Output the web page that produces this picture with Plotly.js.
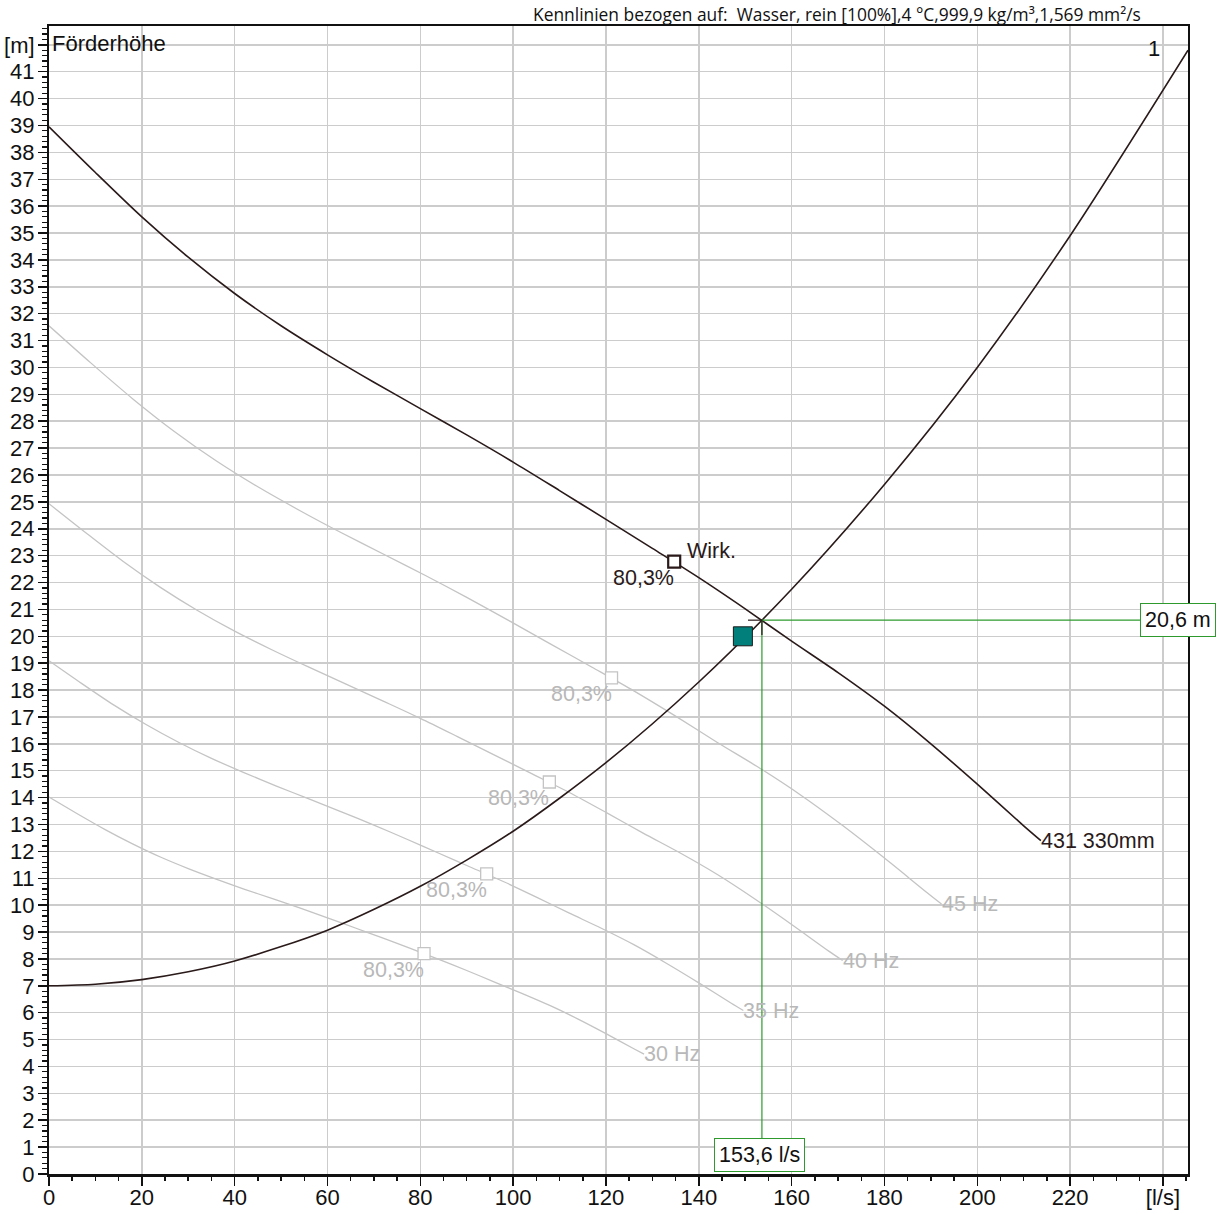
<!DOCTYPE html>
<html>
<head>
<meta charset="utf-8">
<script src="https://cdn.plot.ly/plotly-3.0.1.min.js"></script>
<style>html,body{margin:0;padding:0;background:#fff;}#chart{width:1226px;height:1214px;}</style>
</head>
<body>
<div id="chart"></div>
<script>
// ---- data ----
const pump50Q = [0, 10, 20, 30, 40, 50, 60, 70, 80, 90, 100, 110, 120, 130, 140, 150, 160, 170, 180, 190, 200, 210, 213.7];
const pump50H = [38.95, 37.25, 35.6, 34.1, 32.75, 31.55, 30.47, 29.45, 28.47, 27.49, 26.48, 25.42, 24.35, 23.27, 22.18, 21.02, 19.82, 18.65, 17.4, 16.0, 14.5, 12.95, 12.4];

const pump45Q = [0, 9, 18, 27, 36, 45, 54, 63, 72, 81, 90, 99, 108, 117, 126, 135, 144, 153, 162, 171, 180, 189, 192.3];
const pump45H = [31.55, 30.17, 28.84, 27.62, 26.53, 25.56, 24.68, 23.85, 23.06, 22.27, 21.45, 20.59, 19.72, 18.85, 17.97, 17.03, 16.05, 15.11, 14.09, 12.96, 11.75, 10.49, 10.04];

const pump40Q = [0, 8, 16, 24, 32, 40, 48, 56, 64, 72, 80, 88, 96, 104, 112, 120, 128, 136, 144, 152, 160, 168, 171];
const pump40H = [24.93, 23.84, 22.78, 21.82, 20.96, 20.19, 19.5, 18.85, 18.22, 17.59, 16.95, 16.27, 15.58, 14.89, 14.2, 13.45, 12.68, 11.94, 11.14, 10.24, 9.28, 8.29, 7.94];

const pump35Q = [0, 7, 14, 21, 28, 35, 42, 49, 56, 63, 70, 77, 84, 91, 98, 105, 112, 119, 126, 133, 140, 147, 149.6];
const pump35H = [19.09, 18.25, 17.44, 16.71, 16.05, 15.46, 14.93, 14.43, 13.95, 13.47, 12.98, 12.46, 11.93, 11.4, 10.87, 10.3, 9.71, 9.14, 8.53, 7.84, 7.11, 6.35, 6.08];

const pump30Q = [0, 6, 12, 18, 24, 30, 36, 42, 48, 54, 60, 66, 72, 78, 84, 90, 96, 102, 108, 114, 120, 126, 128.2];
const pump30H = [14.02, 13.41, 12.82, 12.28, 11.79, 11.36, 10.97, 10.6, 10.25, 9.9, 9.53, 9.15, 8.77, 8.38, 7.98, 7.57, 7.14, 6.71, 6.26, 5.76, 5.22, 4.66, 4.46];

const systemQ = [0, 10, 20, 30, 40, 60, 80, 100, 120, 140, 160, 180, 200, 220, 245.4];
const systemH = [7.0, 7.06, 7.23, 7.52, 7.92, 9.07, 10.7, 12.75, 15.3, 18.3, 21.75, 25.65, 30.0, 34.9, 41.8];

const curveLabels = ['431 330mm', '45 Hz', '40 Hz', '35 Hz', '30 Hz'];
const effQ = [134.7, 121.2, 107.8, 94.3, 80.8];
const effH = [22.78, 18.45, 14.58, 11.16, 8.2];
const effLabel = '80,3%';

const dutyQ = [149.5];
const dutyH = [20.0];

const opQ = 153.6;
const opH = 20.6;
const opQLabel = '153,6 l/s';
const opHLabel = '20,6 m';

const xTickVals = [0, 20, 40, 60, 80, 100, 120, 140, 160, 180, 200, 220, 240];
const xTickText = ['0', '20', '40', '60', '80', '100', '120', '140', '160', '180', '200', '220', '[l/s]'];
const yTickVals = Array.from({length: 43}, (_, i) => i);
const yTickText = yTickVals.map(v => v === 42 ? '[m]' : String(v));

const headerText = 'Kennlinien bezogen auf:  Wasser, rein [100%],4 °C,999,9 kg/m³,1,569 mm²/s';

// ---- styles ----
const DARK = '#2a1a1a';
const GRAY = '#c4c4c4';
const GRAYTXT = '#b8b8b8';
const GREEN = '#2e9a2e';
const FONT = 'Liberation Sans, Arial, sans-serif';
const XMAX = 245.4, YMAX = 42.7;

const allQ = [pump50Q, pump45Q, pump40Q, pump35Q, pump30Q];
const allH = [pump50H, pump45H, pump40H, pump35H, pump30H];

const traces = [];
for (let i = 4; i >= 1; i--) {
  traces.push({x: allQ[i], y: allH[i], mode: 'lines', line: {color: GRAY, width: 1.3, shape: 'spline', smoothing: 0.8}, hoverinfo: 'skip'});
}
traces.push({x: systemQ, y: systemH, mode: 'lines', line: {color: DARK, width: 1.6, shape: 'spline', smoothing: 0.8}, hoverinfo: 'skip'});
traces.push({x: pump50Q, y: pump50H, mode: 'lines', line: {color: DARK, width: 1.6, shape: 'spline', smoothing: 0.8}, hoverinfo: 'skip'});
traces.push({x: effQ.slice(1), y: effH.slice(1), mode: 'markers',
  marker: {symbol: 'square', size: 12, color: '#ffffff', line: {color: GRAY, width: 1.3}}, hoverinfo: 'skip'});
traces.push({x: effQ.slice(0, 1), y: effH.slice(0, 1), mode: 'markers',
  marker: {symbol: 'square', size: 12, color: '#ffffff', line: {color: DARK, width: 2.2}}, hoverinfo: 'skip'});
traces.push({x: dutyQ, y: dutyH, mode: 'markers',
  marker: {symbol: 'square', size: 19, color: '#007f7b', line: {color: '#1a1a1a', width: 1}}, hoverinfo: 'skip'});
// empty traces that bind the tick-mark overlay axes
traces.push({x: [], y: [], xaxis: 'x2', yaxis: 'y', mode: 'lines', hoverinfo: 'skip'});
traces.push({x: [], y: [], xaxis: 'x', yaxis: 'y2', mode: 'lines', hoverinfo: 'skip'});

const annotations = [];
for (let i = 0; i < 5; i++) {
  const q = allQ[i], h = allH[i];
  annotations.push({x: q[q.length - 1], y: h[h.length - 1], xref: 'x', yref: 'y', text: curveLabels[i],
    showarrow: false, xanchor: 'left', yanchor: 'middle', xshift: -2,
    font: {family: FONT, size: 21.5, color: i === 0 ? DARK : GRAYTXT}});
}
for (let i = 0; i < effQ.length; i++) {
  annotations.push({x: effQ[i], y: effH[i], xref: 'x', yref: 'y', text: effLabel, showarrow: false,
    xanchor: 'right', yanchor: 'middle', yshift: -16, xshift: 2,
    font: {family: FONT, size: 21.5, color: i === 0 ? DARK : GRAYTXT}});
}
annotations.push({x: effQ[0], y: effH[0], xref: 'x', yref: 'y', text: 'Wirk.', showarrow: false,
  xanchor: 'left', yanchor: 'middle', xshift: 11, yshift: 11, font: {family: FONT, size: 21.5, color: DARK}});
annotations.push({x: 0, y: 42, xref: 'x', yref: 'y', text: 'Förderhöhe', showarrow: false,
  xanchor: 'left', yanchor: 'middle', xshift: 1, yshift: 1, font: {family: FONT, size: 22, color: '#111'}});
annotations.push({x: 240, y: 41.85, xref: 'x', yref: 'y', text: '1', showarrow: false,
  xanchor: 'right', yanchor: 'middle', xshift: -1, font: {family: FONT, size: 22, color: '#111'}});
annotations.push({x: (1143 - 49) / (1188 - 49), y: (1174 - 14) / (1174 - 26), xref: 'paper', yref: 'paper', text: headerText,
  showarrow: false, xanchor: 'right', yanchor: 'middle', font: {family: 'Open Sans, sans-serif', size: 17.4, color: '#111'}});
annotations.push({x: 235.1, y: opH, xref: 'x', yref: 'y', text: opHLabel, showarrow: false,
  xanchor: 'left', yanchor: 'middle', bgcolor: '#ffffff', bordercolor: GREEN, borderwidth: 1, borderpad: 4,
  font: {family: FONT, size: 21.5, color: '#111'}});
annotations.push({x: opQ, y: 0, xref: 'x', yref: 'y', text: opQLabel, showarrow: false,
  xanchor: 'center', yanchor: 'bottom', yshift: 2, xshift: -2, bgcolor: '#ffffff', bordercolor: GREEN, borderwidth: 1, borderpad: 4,
  font: {family: FONT, size: 21.5, color: '#111'}});

const shapes = [
  {type: 'line', xref: 'x', yref: 'y', x0: opQ, x1: 235.1, y0: opH, y1: opH, line: {color: GREEN, width: 1.2}},
  {type: 'line', xref: 'x', yref: 'y', x0: opQ, x1: opQ, y0: opH, y1: 1.2, line: {color: GREEN, width: 1.2}},
  {type: 'line', xref: 'x', yref: 'y', x0: opQ - 3, x1: opQ, y0: opH, y1: opH, line: {color: DARK, width: 1.2}},
  {type: 'line', xref: 'x', yref: 'y', x0: opQ, x1: opQ, y0: opH, y1: opH - 0.55, line: {color: DARK, width: 1.2}}
];

const layout = {
  width: 1226, height: 1214,
  margin: {l: 49, r: 38, t: 26, b: 40, pad: 0},
  paper_bgcolor: '#ffffff', plot_bgcolor: '#ffffff',
  showlegend: false,
  font: {family: FONT, size: 22, color: '#111'},
  xaxis: {
    range: [0, XMAX], tickvals: xTickVals, ticktext: xTickText,
    showgrid: true, gridcolor: '#cccccc', gridwidth: 1.5,
    zeroline: false, showline: true, linecolor: '#111', linewidth: 2.5, mirror: true,
    ticks: 'outside', ticklen: 2, tickwidth: 1, tickcolor: 'rgba(0,0,0,0)',
    tickfont: {family: FONT, size: 22, color: '#111'},
    fixedrange: true
  },
  yaxis: {
    range: [0, YMAX], tickvals: yTickVals, ticktext: yTickText,
    showgrid: true, gridcolor: '#cccccc', gridwidth: 1.5,
    zeroline: false, showline: true, linecolor: '#111', linewidth: 2, mirror: true,
    ticks: 'outside', ticklen: 8, tickwidth: 1, tickcolor: 'rgba(0,0,0,0)',
    tickfont: {family: FONT, size: 22, color: '#111'},
    fixedrange: true
  },
  xaxis2: {
    overlaying: 'x', anchor: 'y', side: 'bottom', range: [0, XMAX], tickvals: xTickVals,
    showticklabels: false, showgrid: false, zeroline: false, showline: false,
    ticks: 'outside', ticklen: 11, tickwidth: 1.5, tickcolor: '#111',
    minor: {dtick: 5, tick0: 0, ticks: 'outside', ticklen: 6, tickwidth: 1.5, tickcolor: '#111', showgrid: false},
    fixedrange: true
  },
  yaxis2: {
    overlaying: 'y', anchor: 'x', side: 'left', range: [0, YMAX], tickvals: yTickVals,
    showticklabels: false, showgrid: false, zeroline: false, showline: false,
    ticks: 'outside', ticklen: 10, tickwidth: 1.5, tickcolor: '#111',
    minor: {dtick: 0.2, tick0: 0, ticks: 'outside', ticklen: 6, tickwidth: 1.2, tickcolor: '#111', showgrid: false},
    fixedrange: true
  },
  annotations: annotations,
  shapes: shapes
};

Plotly.newPlot('chart', traces, layout, {staticPlot: true, displayModeBar: false});
</script>
</body>
</html>
